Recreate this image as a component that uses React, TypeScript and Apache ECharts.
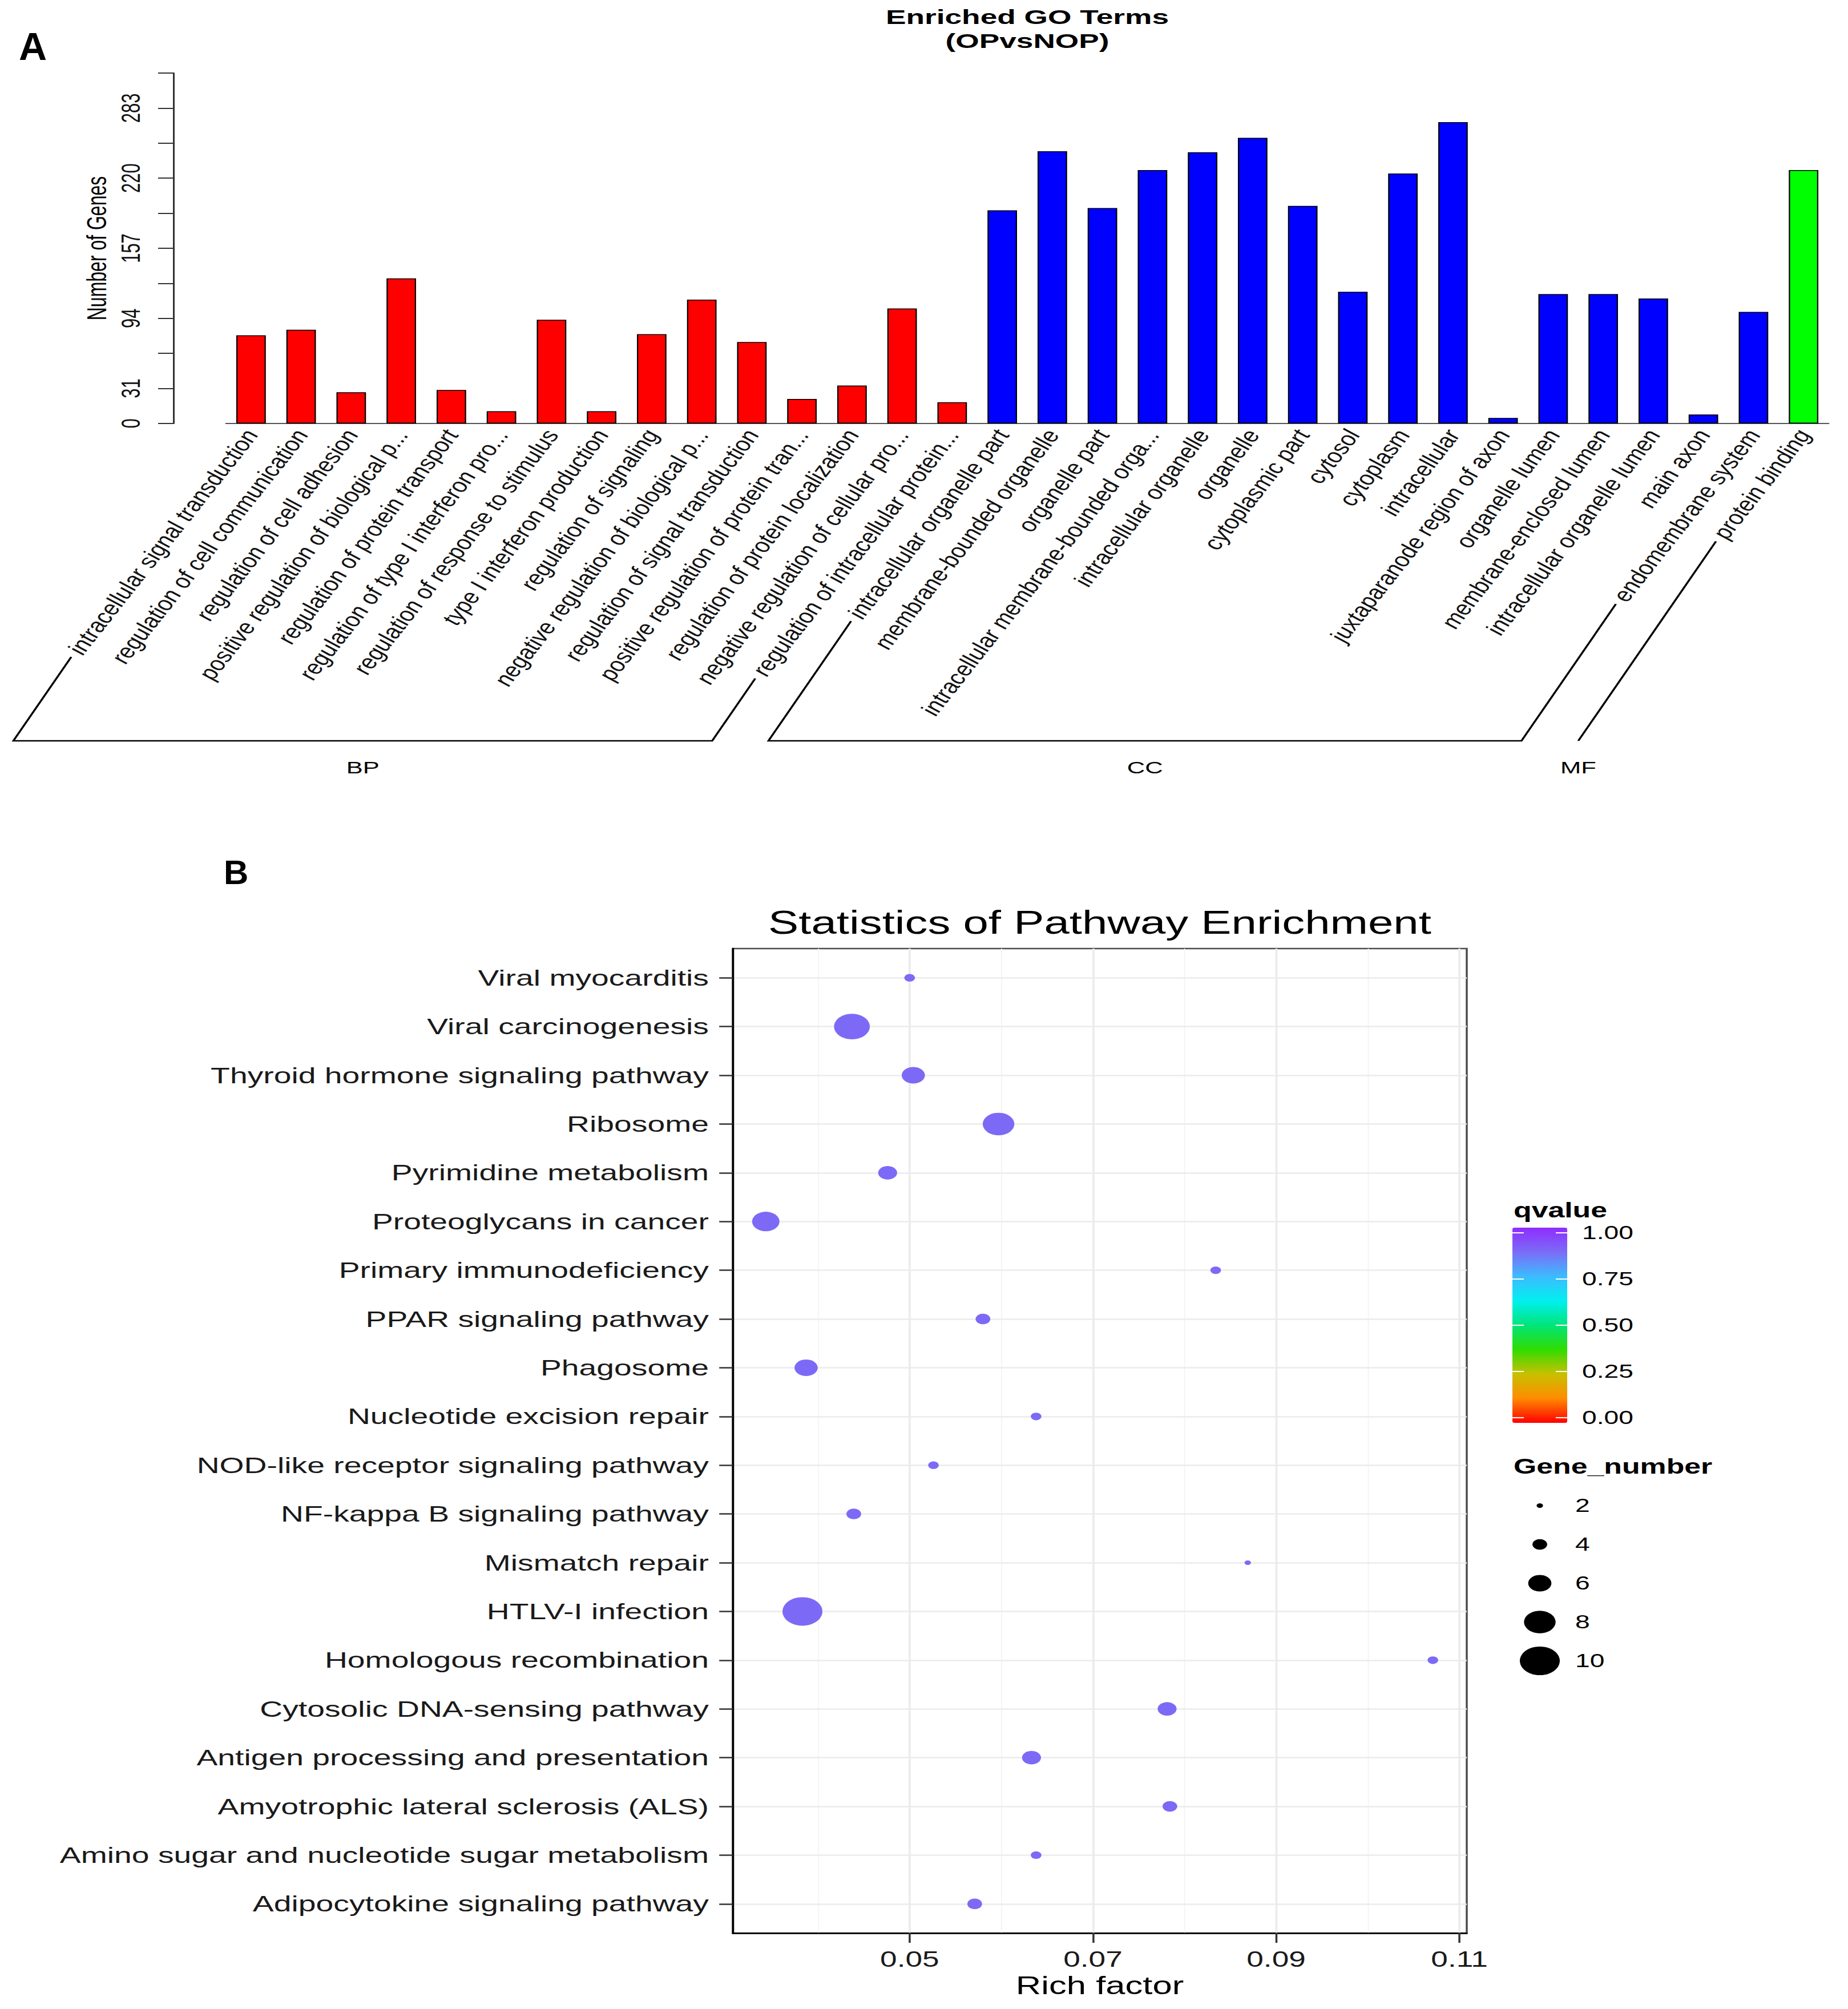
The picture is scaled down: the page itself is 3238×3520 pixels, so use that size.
import React, { useEffect, useRef } from "react";
import * as echarts from "echarts";

// ---------- Panel A data ----------
const goTitle = ["Enriched GO Terms", "(OPvsNOP)"];
const bpTerms = [
  "intracellular signal transduction",
  "regulation of cell communication",
  "regulation of cell adhesion",
  "positive regulation of biological p...",
  "regulation of protein transport",
  "regulation of type I interferon pro...",
  "regulation of response to stimulus",
  "type I interferon production",
  "regulation of signaling",
  "negative regulation of biological p...",
  "regulation of signal transduction",
  "positive regulation of protein tran...",
  "regulation of protein localization",
  "negative regulation of cellular pro...",
  "regulation of intracellular protein...",
];
const bpCounts = [79, 84, 28, 130, 30, 11, 93, 11, 80, 111, 73, 22, 34, 103, 19];
const ccTerms = [
  "intracellular organelle part",
  "membrane-bounded organelle",
  "organelle part",
  "intracellular membrane-bounded orga...",
  "intracellular organelle",
  "organelle",
  "cytoplasmic part",
  "cytosol",
  "cytoplasm",
  "intracellular",
  "juxtaparanode region of axon",
  "organelle lumen",
  "membrane-enclosed lumen",
  "intracellular organelle lumen",
  "main axon",
  "endomembrane system",
];
const ccCounts = [191, 244, 193, 227, 243, 256, 195, 118, 224, 270, 5, 116, 116, 112, 8, 100];
const mfTerms = ["protein binding"];
const mfCounts = [227];
const groupNames = ["BP", "CC", "MF"];
const groupColors = ["#FF0000", "#0000FF", "#00FF00"];
const yTickLabels = ["0", "31", "", "94", "", "157", "", "220", "", "283", ""];
const yAxisMax = 314;
const yAxisStep = 31.4;

// ---------- Panel B data ----------
const pathTitle = "Statistics of Pathway Enrichment";
const pathways = [
  "Viral myocarditis",
  "Viral carcinogenesis",
  "Thyroid hormone signaling pathway",
  "Ribosome",
  "Pyrimidine metabolism",
  "Proteoglycans in cancer",
  "Primary immunodeficiency",
  "PPAR signaling pathway",
  "Phagosome",
  "Nucleotide excision repair",
  "NOD-like receptor signaling pathway",
  "NF-kappa B signaling pathway",
  "Mismatch repair",
  "HTLV-I infection",
  "Homologous recombination",
  "Cytosolic DNA-sensing pathway",
  "Antigen processing and presentation",
  "Amyotrophic lateral sclerosis (ALS)",
  "Amino sugar and nucleotide sugar metabolism",
  "Adipocytokine signaling pathway",
];
const richFactor = [
  0.05, 0.0437, 0.0504, 0.0597, 0.0476, 0.0343, 0.0834, 0.058, 0.0387, 0.0638,
  0.0526, 0.0439, 0.0869, 0.0383, 0.1071, 0.0781, 0.0633, 0.0784, 0.0638, 0.0571,
];
const geneNumber = [3, 9, 6, 8, 5, 7, 3, 4, 6, 3, 3, 4, 2, 10, 3, 5, 5, 4, 3, 4];
const qValue = [
  0.9, 0.9, 0.9, 0.9, 0.9, 0.9, 0.9, 0.9, 0.9, 0.9,
  0.9, 0.9, 0.9, 0.9, 0.9, 0.9, 0.9, 0.9, 0.9, 0.9,
];
const xTicks = [0.05, 0.07, 0.09, 0.11];
const xMinorTicks = [0.04, 0.06, 0.08, 0.1];
const qTicks = [1.0, 0.75, 0.5, 0.25, 0.0];
const sizeBreaks = [2, 4, 6, 8, 10];
const qPalette = [
  "#FF0000", "#FF8C00", "#C8C000", "#30DC00", "#00E57A",
  "#00F0F0", "#3DBBFF", "#7B6CF6", "#8F2DFF",
];

// ---------- layout ----------
const FONT = "Liberation Sans";
const SA = 1.5;
const SB = 1.4;
const WA = 3238 / SA;
const HA = 1450;
const TOP_B = 1450;
const WB = 3238 / SB;
const HB = 3520 - TOP_B;

const gridA = { left: 396 / SA, top: 128, width: 2808 / SA, height: 614 };
const CAT_FONT = 32;
const CAT_ROT = 62;
const CAT_MARGIN = 14;
const BRACKET_ANGLE = 65.3;
const BRACKET_Y = 1298;
const BRACKET_GAP = 8;

const gridB = { left: 1284 / SB, top: 1662 - TOP_B, width: (2570 - 1284) / SB, height: 1725 };
const xMin = 0.0307;
const xMax = 0.1108;
const cbMin = -0.028;
const cbMax = 1.028;
const cbBox = { left: 2650 / SB, top: 2151 - TOP_B, width: 96 / SB, height: 342 };

const sizeOf = (n: number) => 5.25 * n - 2.5;

const allTerms = [...bpTerms, ...ccTerms, ...mfTerms];
const allCounts = [...bpCounts, ...ccCounts, ...mfCounts];
const groupLists = [bpTerms, ccTerms, mfTerms];

function optionA() {
  const data = allCounts.map((v, i) => {
    const g = i < bpTerms.length ? 0 : i < bpTerms.length + ccTerms.length ? 1 : 2;
    return { value: v, itemStyle: { color: groupColors[g] } };
  });
  return {
    animation: false,
    textStyle: { fontFamily: FONT },
    grid: { ...gridA },
    xAxis: {
      type: "category",
      data: allTerms,
      boundaryGap: true,
      axisLine: { lineStyle: { color: "#555", width: 2 } },
      axisTick: { interval: 0, length: 18, lineStyle: { color: "#333", width: 2 } },
      axisLabel: {
        interval: 0,
        rotate: CAT_ROT,
        margin: CAT_MARGIN,
        fontStyle: "italic",
        fontSize: CAT_FONT,
        fontFamily: FONT,
        color: "#111",
      },
      splitLine: { show: false },
    },
    yAxis: {
      type: "value",
      min: 0,
      max: yAxisMax,
      interval: yAxisStep,
      offset: (396 - 304) / SA,
      name: "Number of Genes",
      nameLocation: "middle",
      nameRotate: 90,
      nameGap: 72,
      nameTextStyle: { fontSize: 32, color: "#000", fontFamily: FONT },
      axisLine: { show: true, lineStyle: { color: "#333", width: 2 } },
      axisTick: { show: true, length: 18, lineStyle: { color: "#333", width: 2 } },
      axisLabel: {
        rotate: 90,
        margin: 35,
        fontSize: 31,
        color: "#111",
        fontFamily: FONT,
        formatter: (_v: number, i: number) => yTickLabels[i] ?? "",
      },
      splitLine: { show: false },
    },
    series: [
      {
        type: "bar",
        data,
        barWidth: "59%",
        itemStyle: { borderColor: "#000", borderWidth: 1.5 },
      },
    ],
  };
}

function graphicA(chart: any) {
  const canvas = document.createElement("canvas");
  const ctx = canvas.getContext("2d")!;
  ctx.font = `italic ${CAT_FONT}px "${FONT}"`;
  const axisY = chart.convertToPixel({ yAxisIndex: 0 }, 0);
  const th = (CAT_ROT * Math.PI) / 180;
  const ph = (BRACKET_ANGLE * Math.PI) / 180;
  const endOf = (i: number) => {
    const cx = chart.convertToPixel({ xAxisIndex: 0 }, i);
    const w = ctx.measureText(allTerms[i]).width + BRACKET_GAP;
    return [cx - w * Math.cos(th), axisY + CAT_MARGIN + w * Math.sin(th)];
  };
  const foot = (p: number[]) => [p[0] - (BRACKET_Y - p[1]) / Math.tan(ph), BRACKET_Y];
  const els: any[] = [];
  let start = 0;
  groupLists.forEach((list, g) => {
    const first = start;
    const last = start + list.length - 1;
    start += list.length;
    const e1 = endOf(first);
    const e2 = endOf(last);
    const f1 = foot(e1);
    const f2 = foot(e2);
    els.push({
      type: "polyline",
      shape: { points: [e1, f1, f2, e2] },
      style: { stroke: "#000", lineWidth: 2.5, fill: null },
      silent: true,
    });
    els.push({
      type: "text",
      x: (f1[0] + f2[0]) / 2,
      y: BRACKET_Y + 47,
      style: {
        text: groupNames[g],
        fontSize: 29,
        fontFamily: FONT,
        fill: "#000",
        align: "center",
        verticalAlign: "middle",
      },
    });
  });
  const cx = gridA.left + gridA.width / 2;
  els.push({
    type: "text",
    x: cx,
    y: 30,
    style: { text: goTitle[0], fontSize: 35.5, fontWeight: "bold", fontFamily: FONT, fill: "#000", align: "center", verticalAlign: "middle" },
  });
  els.push({
    type: "text",
    x: cx,
    y: 72,
    style: { text: goTitle[1], fontSize: 35.5, fontWeight: "bold", fontFamily: FONT, fill: "#000", align: "center", verticalAlign: "middle" },
  });
  els.push({
    type: "text",
    x: 33 / SA,
    y: 81,
    scaleX: 1 / SA,
    style: { text: "A", fontSize: 68, fontWeight: "bold", fontFamily: FONT, fill: "#000", align: "left", verticalAlign: "middle" },
  });
  return els;
}

function optionB() {
  const data = pathways.map((_p, i) => [richFactor[i], i, geneNumber[i], qValue[i]]);
  const gridLines = [
    ...xTicks.map((v) => ({ xAxis: v, lineStyle: { color: "#EBEBEB", width: 2.6, type: "solid" } })),
    ...xMinorTicks.map((v) => ({ xAxis: v, lineStyle: { color: "#F3F3F3", width: 1.3, type: "solid" } })),
    ...pathways.map((_p, i) => ({ yAxis: i, lineStyle: { color: "#EBEBEB", width: 2.6, type: "solid" } })),
  ];
  const cbRange = cbMax - cbMin;
  const qY = (v: number) => cbBox.top + ((cbMax - v) / cbRange) * cbBox.height;
  const tickLen = 20 / SB;
  const graphic: any[] = [];
  graphic.push({
    type: "text",
    x: 392 / SB,
    y: 1528 - TOP_B,
    scaleX: 1 / SB,
    style: { text: "B", fontSize: 60, fontWeight: "bold", fontFamily: FONT, fill: "#000", align: "left", verticalAlign: "middle" },
  });
  graphic.push({
    type: "text",
    x: gridB.left + gridB.width / 2,
    y: 1616 - TOP_B,
    style: { text: pathTitle, fontSize: 57, fontFamily: FONT, fill: "#000", align: "center", verticalAlign: "middle" },
  });
  graphic.push({
    type: "text",
    x: 2652 / SB,
    y: 2120 - TOP_B,
    style: { text: "qvalue", fontSize: 37, fontWeight: "bold", fontFamily: FONT, fill: "#000", align: "left", verticalAlign: "middle" },
  });
  qTicks.forEach((v) => {
    const y = qY(v);
    graphic.push({
      type: "line",
      z: 10,
      shape: { x1: cbBox.left, y1: y, x2: cbBox.left + tickLen, y2: y },
      style: { stroke: "#FFFFFF", lineWidth: 2 },
    });
    graphic.push({
      type: "line",
      z: 10,
      shape: { x1: cbBox.left + cbBox.width - tickLen, y1: y, x2: cbBox.left + cbBox.width, y2: y },
      style: { stroke: "#FFFFFF", lineWidth: 2 },
    });
    graphic.push({
      type: "text",
      x: 2772 / SB,
      y,
      style: { text: v.toFixed(2), fontSize: 33, fontFamily: FONT, fill: "#000", align: "left", verticalAlign: "middle" },
    });
  });
  graphic.push({
    type: "text",
    x: 2652 / SB,
    y: 2569 - TOP_B,
    style: { text: "Gene_number", fontSize: 37, fontWeight: "bold", fontFamily: FONT, fill: "#000", align: "left", verticalAlign: "middle" },
  });
  sizeBreaks.forEach((n, k) => {
    const y = 2638 - TOP_B + k * 68;
    graphic.push({
      type: "circle",
      shape: { cx: 2698 / SB, cy: y, r: sizeOf(n) / 2 },
      style: { fill: "#000" },
    });
    graphic.push({
      type: "text",
      x: 2760 / SB,
      y,
      style: { text: String(n), fontSize: 33, fontFamily: FONT, fill: "#000", align: "left", verticalAlign: "middle" },
    });
  });

  return {
    animation: false,
    textStyle: { fontFamily: FONT },
    grid: { ...gridB, show: true, borderColor: "#4D4D4D", borderWidth: 2.5, backgroundColor: "transparent" },
    xAxis: {
      type: "value",
      min: xMin,
      max: xMax,
      z: 4,
      name: "Rich factor",
      nameLocation: "middle",
      nameGap: 69,
      nameTextStyle: { fontSize: 44, color: "#000", fontFamily: FONT },
      axisLine: { show: true, onZero: false, lineStyle: { color: "#000", width: 2.5 } },
      axisTick: { show: true, length: 17, customValues: xTicks, lineStyle: { color: "#333", width: 2.5 } },
      axisLabel: {
        customValues: xTicks,
        margin: 27,
        fontSize: 38,
        color: "#1A1A1A",
        fontFamily: FONT,
        formatter: (v: number) => v.toFixed(2),
      },
      splitLine: { show: false },
    },
    yAxis: {
      type: "value",
      min: -0.6,
      max: pathways.length - 0.4,
      inverse: true,
      z: 4,
      axisLine: { show: true, onZero: false, lineStyle: { color: "#000", width: 2.5 } },
      axisTick: { show: true, length: 17, customValues: pathways.map((_p, i) => i), lineStyle: { color: "#333", width: 2.5 } },
      axisLabel: {
        customValues: pathways.map((_p, i) => i),
        margin: 30,
        fontSize: 39.5,
        color: "#1A1A1A",
        fontFamily: FONT,
        formatter: (v: number) => pathways[Math.round(v)] ?? "",
      },
      splitLine: { show: false },
    },
    visualMap: {
      type: "continuous",
      seriesIndex: 0,
      dimension: 3,
      min: cbMin,
      max: cbMax,
      calculable: false,
      hoverLink: false,
      orient: "vertical",
      left: cbBox.left,
      top: cbBox.top,
      padding: 0,
      itemWidth: cbBox.width,
      itemHeight: cbBox.height,
      inRange: { color: qPalette },
      textStyle: { fontSize: 1, color: "transparent" },
    },
    graphic,
    series: [
      {
        type: "scatter",
        data,
        encode: { x: 0, y: 1 },
        symbolSize: (v: number[]) => sizeOf(v[2]),
        itemStyle: { opacity: 1 },
        z: 2,
        markLine: {
          silent: true,
          z: 1,
          symbol: ["none", "none"],
          label: { show: false },
          animation: false,
          data: gridLines,
        },
      },
    ],
  };
}

export default function App() {
  const refA = useRef<HTMLDivElement>(null);
  const refB = useRef<HTMLDivElement>(null);
  useEffect(() => {
    const a = echarts.init(refA.current!, null, { renderer: "svg", width: WA, height: HA });
    a.setOption(optionA() as any);
    a.setOption({ graphic: graphicA(a) } as any);
    const b = echarts.init(refB.current!, null, { renderer: "svg", width: WB, height: HB });
    b.setOption(optionB() as any);
    return () => {
      a.dispose();
      b.dispose();
    };
  }, []);
  return (
    <div>
      <div
        ref={refA}
        style={{ position: "absolute", left: 0, top: 0, width: WA, height: HA, transform: `scaleX(${SA})`, transformOrigin: "0 0" }}
      />
      <div
        ref={refB}
        style={{ position: "absolute", left: 0, top: TOP_B, width: WB, height: HB, transform: `scaleX(${SB})`, transformOrigin: "0 0" }}
      />
    </div>
  );
}
